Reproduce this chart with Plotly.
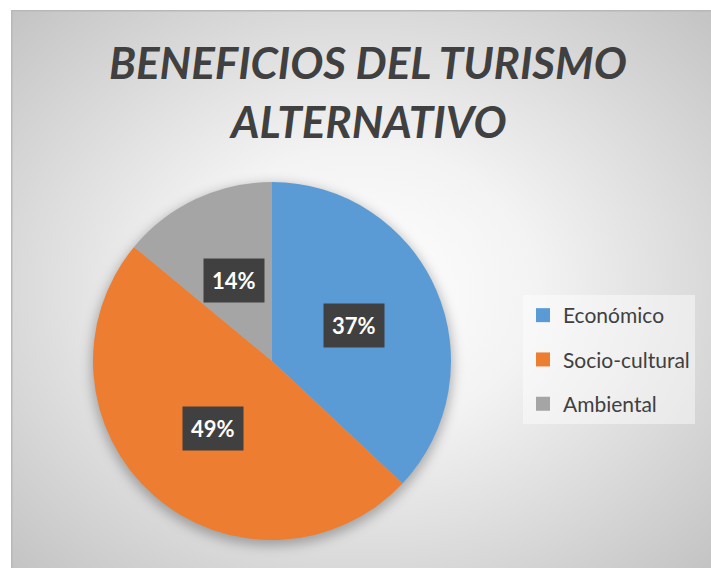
import base64
import math
import plotly.graph_objects as go

# ---- data ----
categories = ["Económico", "Socio-cultural", "Ambiental"]
values = [37, 49, 14]
colors = ["#5B9BD5", "#ED7D31", "#A5A5A5"]
title_lines = ["BENEFICIOS DEL TURISMO", "ALTERNATIVO"]

W, H = 711, 568
# pie placement (pixels)
PCX, PCY, PR = 272, 361, 179
dom_x = [(PCX - PR) / W, (PCX + PR) / W]
dom_y = [1 - (PCY + PR) / H, 1 - (PCY - PR) / H]

# background: radial gradient frame with pie shadow
FX, FY = 11, 10
FW, FH = W - FX, H - FY
svg = f"""<svg xmlns='http://www.w3.org/2000/svg' width='{FW}' height='{FH}' viewBox='0 0 {FW} {FH}'>
<defs>
<radialGradient id='g' cx='50%' cy='50%' r='72%'>
<stop offset='0' stop-color='#ffffff'/>
<stop offset='0.35' stop-color='#f3f3f3'/>
<stop offset='1' stop-color='#c2c2c2'/>
</radialGradient>
<filter id='b' x='-20%' y='-20%' width='140%' height='140%'><feGaussianBlur stdDeviation='6'/></filter>
</defs>
<rect x='0' y='0' width='{FW}' height='{FH}' fill='url(#g)'/>
<rect x='0.75' y='0.75' width='{FW+5}' height='{FH+5}' fill='none' stroke='#b8b8b8' stroke-width='1.5'/>
<circle cx='{PCX-FX}' cy='{PCY-FY+4}' r='{PR+2}' fill='rgba(0,0,0,0.28)' filter='url(#b)'/>
</svg>"""
src = "data:image/svg+xml;base64," + base64.b64encode(svg.encode()).decode()

fig = go.Figure()
fig.add_trace(go.Pie(
    labels=categories, values=values, sort=False, direction="clockwise", rotation=0,
    marker=dict(colors=colors, line=dict(width=0)),
    textinfo="none", hoverinfo="label+percent", showlegend=False,
    domain=dict(x=dom_x, y=dom_y),
))

# legend entries (separate groups for spacing)
for i, (c, col) in enumerate(zip(categories, colors)):
    fig.add_trace(go.Scatter(
        x=[None], y=[None], mode="markers", name=c, legendgroup=f"g{i}",
        marker=dict(symbol="square", size=14, color=col), showlegend=True,
    ))

# percentage labels in dark boxes
total = sum(values)
cum = 0
for v in values:
    mid = (cum + v / 2) / total * 2 * math.pi
    cum += v
    px = PCX + 0.5 * PR * math.sin(mid)
    py = PCY - 0.5 * PR * math.cos(mid)
    fig.add_annotation(
        x=px / W, y=1 - py / H, xref="paper", yref="paper",
        xanchor="center", yanchor="middle",
        text=f"<b>{round(v / total * 100)}%</b>", showarrow=False,
        bgcolor="#404040", borderpad=8,
        font=dict(family="Lato", size=22, color="#ffffff"),
    )

# title lines
for line, cy in zip(title_lines, [62, 121]):
    fig.add_annotation(
        x=368 / W, y=1 - cy / H, xref="paper", yref="paper",
        xanchor="center", yanchor="middle", showarrow=False,
        text=f"<b><i>{line}</i></b>",
        font=dict(family="Lato", size=44, color="#404040"),
    )

fig.update_layout(
    width=W, height=H,
    margin=dict(l=0, r=0, t=0, b=0),
    paper_bgcolor="#ffffff", plot_bgcolor="rgba(0,0,0,0)",
    xaxis=dict(visible=False), yaxis=dict(visible=False),
    legend=dict(x=523 / W, y=1 - 295 / H, xanchor="left", yanchor="top",
                bgcolor="rgba(255,255,255,0.45)", borderwidth=0,
                font=dict(family="Lato", size=21, color="#404040"),
                tracegroupgap=14, itemwidth=30),
    images=[dict(source=src, xref="paper", yref="paper", x=FX / W, y=1 - FY / H,
                 sizex=FW / W, sizey=FH / H, xanchor="left", yanchor="top",
                 sizing="stretch", layer="below")],
)

fig.write_html("out.html", config={"displayModeBar": False},
               post_script="document.body.style.margin='0';")
